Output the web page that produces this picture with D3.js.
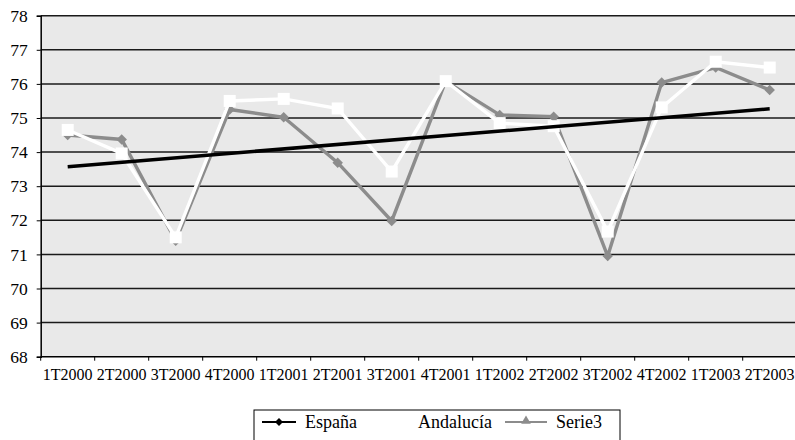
<!DOCTYPE html>
<html>
<head>
<meta charset="utf-8">
<script src="https://cdn.jsdelivr.net/npm/d3@7"></script>
<style>
body { margin: 0; background: #fff; }
</style>
</head>
<body>
<div id="chart"></div>
<script>
var categories = ['1T2000', '2T2000', '3T2000', '4T2000', '1T2001', '2T2001', '3T2001',
                  '4T2001', '1T2002', '2T2002', '3T2002', '4T2002', '1T2003', '2T2003'];
var andalucia = [74.65, 73.96, 71.5, 75.5, 75.56, 75.28, 73.43, 76.08, 74.85, 74.76, 71.67, 75.31, 76.65, 76.48];
var serie3 = [74.5, 74.37, 71.4, 75.25, 75.02, 73.69, 71.98, 76.08, 75.09, 75.04, 70.95, 76.04, 76.48, 75.82];
// black straight line (España) from first to last quarter
var espana = [[categories[0], 73.57], [categories[13], 75.27]];
var y_ticks = [68, 69, 70, 71, 72, 73, 74, 75, 76, 77, 78];

var width = 795, height = 440;
var plot_left = 40.7, plot_top = 15.7, plot_bottom = 356.7;
var band = 54;
var serif = "'Liberation Serif', 'Times New Roman', serif";

var svg = d3.select('#chart').append('svg')
	.attr('width', width)
	.attr('height', height);

var x_scale = d3.scaleBand()
	.domain(categories)
	.range([plot_left, plot_left + band * categories.length]);
var y_scale = d3.scaleLinear()
	.domain([68, 78])
	.range([plot_bottom, plot_top]);

// plot background
svg.append('rect')
	.attr('x', plot_left).attr('y', plot_top)
	.attr('width', width - plot_left).attr('height', plot_bottom - plot_top)
	.attr('fill', '#e9e9e9');

// gridlines
svg.append('g').selectAll('line')
	.data(y_ticks.slice(1))
	.enter().append('line')
	.attr('x1', plot_left).attr('x2', width)
	.attr('y1', function(d){ return y_scale(d); })
	.attr('y2', function(d){ return y_scale(d); })
	.attr('stroke', '#1a1a1a')
	.attr('stroke-width', 1.5);

// y axis
var y_axis = d3.axisLeft(y_scale).tickValues(y_ticks).tickSize(4).tickPadding(9);
var gy = svg.append('g')
	.attr('transform', 'translate(' + plot_left + ',0)')
	.call(y_axis);
gy.attr('font-family', serif).attr('font-size', 17.5);
gy.selectAll('text').attr('fill', '#000');

// x axis
var x_axis = d3.axisBottom(x_scale).tickSize(0).tickPadding(12);
var gx = svg.append('g')
	.attr('transform', 'translate(0,' + plot_bottom + ')')
	.call(x_axis);
gx.attr('font-family', serif).attr('font-size', 16);
gx.selectAll('text').attr('fill', '#000');
gx.select('.domain').attr('d', 'M' + plot_left + ',0H' + width);
// tick marks between categories
gx.append('g').selectAll('line')
	.data(categories)
	.enter().append('line')
	.attr('x1', function(d){ return x_scale(d); })
	.attr('x2', function(d){ return x_scale(d); })
	.attr('y1', 0).attr('y2', 4)
	.attr('stroke', '#000');
svg.selectAll('.domain').attr('stroke', '#000').attr('stroke-width', 1.5);

function cx(d){ return x_scale(d) + x_scale.bandwidth() / 2; }

var line = d3.line()
	.x(function(d){ return cx(d[0]); })
	.y(function(d){ return y_scale(d[1]); });

var gray = '#8c8c8c';
var sData = categories.map(function(c, i){ return [c, serie3[i]]; });
var aData = categories.map(function(c, i){ return [c, andalucia[i]]; });

// Serie3 (gray diamonds)
svg.append('path').datum(sData)
	.attr('d', line).attr('fill', 'none')
	.attr('stroke', gray).attr('stroke-width', 3.4);
svg.append('g').selectAll('path')
	.data(sData).enter().append('path')
	.attr('d', d3.symbol().type(d3.symbolDiamond2).size(70))
	.attr('transform', function(d){ return 'translate(' + cx(d[0]) + ',' + y_scale(d[1]) + ')'; })
	.attr('fill', gray);

// Andalucía (white squares)
svg.append('path').datum(aData)
	.attr('d', line).attr('fill', 'none')
	.attr('stroke', '#fff').attr('stroke-width', 3.4);
svg.append('g').selectAll('rect')
	.data(aData).enter().append('rect')
	.attr('x', function(d){ return cx(d[0]) - 6; })
	.attr('y', function(d){ return y_scale(d[1]) - 6; })
	.attr('width', 12).attr('height', 12)
	.attr('fill', '#fff');

// España (black straight line)
svg.append('path').datum(espana)
	.attr('d', line).attr('fill', 'none')
	.attr('stroke', '#000').attr('stroke-width', 3.5);

// legend
var legend = svg.append('g');
legend.append('rect')
	.attr('x', 254).attr('y', 410)
	.attr('width', 366).attr('height', 40)
	.attr('fill', '#fff').attr('stroke', '#000').attr('stroke-width', 1);
var ly = 422;
var items = [
	{name: 'España', x1: 262, x2: 296, tx: 305},
	{name: 'Andalucía', x1: 363, x2: 410, tx: 418},
	{name: 'Serie3', x1: 505, x2: 547, tx: 556}
];
var litems = legend.selectAll('g.item').data(items).enter().append('g');
litems.append('line')
	.attr('x1', function(d){ return d.x1; }).attr('x2', function(d){ return d.x2; })
	.attr('y1', ly).attr('y2', ly)
	.attr('stroke', function(d, i){ return ['#000', '#fff', gray][i]; })
	.attr('stroke-width', 2);
litems.append('text')
	.attr('x', function(d){ return d.tx; })
	.attr('y', ly + 6)
	.attr('font-family', serif)
	.attr('font-size', 18)
	.attr('fill', '#000')
	.text(function(d){ return d.name; });
// legend markers
legend.append('path')
	.attr('d', d3.symbol().type(d3.symbolDiamond2).size(40))
	.attr('transform', 'translate(279,' + ly + ')')
	.attr('fill', '#000');
legend.append('rect')
	.attr('x', 381.5).attr('y', ly - 5).attr('width', 10).attr('height', 10)
	.attr('fill', '#fff');
legend.append('path')
	.attr('d', d3.symbol().type(d3.symbolTriangle).size(40))
	.attr('transform', 'translate(526,' + (ly - 1) + ')')
	.attr('fill', gray);
</script>
</body>
</html>
